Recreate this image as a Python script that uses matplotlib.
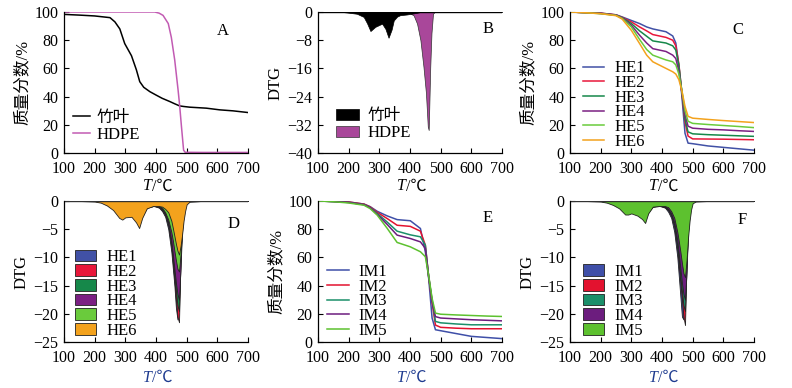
import matplotlib
matplotlib.use("Agg")
import matplotlib.pyplot as plt

plt.rcParams['font.family'] = ['Liberation Serif', 'Noto Sans CJK SC', 'DejaVu Sans']
plt.rcParams['axes.unicode_minus'] = True

# ---------------- data ----------------
# A: TG of bamboo leaf and HDPE
T_a = [100, 150, 200, 250, 266, 282, 298, 320, 336, 347, 360, 380, 401, 420, 445, 460, 477, 490,
       510, 564, 608, 651, 700]
tg_leaf = [98.3, 97.8, 97.2, 96.0, 93.0, 88.0, 77.6, 69.0, 59.0, 50.6, 46.6, 43.5, 41.0, 38.8, 36.5,
           35.0, 33.4, 33.0, 32.5, 31.8, 30.6, 29.9, 28.7]
T_hdpe = [100, 200, 300, 396, 410, 423, 440, 450, 461, 472, 477, 483, 490, 495, 550, 600, 650, 700]
tg_hdpe = [100, 100, 100, 100, 99.2, 97.6, 91.8, 82.0, 66.0, 44.7, 34.0, 18.8, 2.0, 0.5, 0.4, 0.4, 0.4, 0.4]

# B: DTG of bamboo leaf and HDPE
T_b1 = [100, 180, 200, 227, 249, 260, 271, 287, 309, 320, 330, 340, 347, 358, 368, 390, 412, 430]
dtg_leaf = [0, 0, -0.2, -0.5, -1.4, -3.2, -5.4, -4.2, -3.3, -4.8, -7.3, -5.0, -2.4, -1.3, -0.9, -0.7,
            -0.4, -0.1]
T_b2 = [385, 400, 412, 423, 434, 444, 452, 458, 461, 466, 470, 475, 480, 500, 600, 700]
dtg_hdpe = [0, -0.3, -1.0, -3.3, -8.0, -15.6, -23.0, -32.5, -33.5, -15.6, -6.0, -0.5, 0, 0, 0, 0]

# C: TG of HE1-HE6
T_c = [100, 150, 200, 250, 270, 300, 327, 350, 370, 413, 435, 445, 455, 465, 475, 485, 500, 550,
       600, 650, 700]
tg_he1 = [100, 99.6, 99.2, 98.0, 96.5, 94.0, 91.8, 89.4, 88.0, 86.0, 83.0, 78.0, 62.0, 40.0, 14.0,
          7.0, 6.6, 5.0, 4.0, 3.0, 2.0]
tg_he2 = [100, 99.6, 99.2, 98.0, 96.2, 93.0, 89.4, 86.6, 84.0, 82.0, 80.0, 76.0, 63.0, 42.0, 22.0,
          12.0, 10.0, 9.9, 9.8, 9.6, 9.4]
tg_he3 = [100, 99.6, 99.0, 97.8, 96.0, 91.8, 86.6, 82.8, 79.5, 78.0, 76.0, 73.0, 62.0, 43.0, 24.0,
          15.0, 13.6, 13.0, 12.6, 12.2, 11.8]
tg_he4 = [100, 99.5, 99.0, 97.8, 95.8, 90.6, 83.5, 78.0, 74.0, 72.0, 69.4, 67.0, 58.0, 43.0, 27.0,
          19.0, 17.6, 16.8, 16.4, 15.8, 15.3]
tg_he5 = [100, 99.5, 98.8, 97.6, 95.5, 89.4, 80.5, 73.4, 69.4, 66.0, 64.7, 62.5, 56.0, 44.0, 30.0,
          22.5, 21.0, 20.2, 19.5, 18.8, 18.0]
tg_he6 = [100, 99.5, 98.8, 97.4, 95.0, 87.0, 77.6, 69.4, 64.7, 60.0, 57.6, 56.0, 52.0, 44.0, 33.0,
          26.0, 24.7, 23.8, 23.0, 22.3, 21.6]

# D: DTG of HE1-HE6
T_d = [100, 150, 200, 220, 240, 260, 280, 290, 300, 320, 335, 345, 355, 370, 390, 410, 420, 430,
       440, 450, 455, 460, 465, 470, 475, 480, 485, 490, 495, 500, 510, 550, 600, 650, 700]
dtg_he1 = [0, 0, 0, -0.1, -0.3, -0.5, -0.8, -0.9, -1.0, -1.0, -1.1, -1.3, -1.2, -0.9, -0.8, -1.2,
           -1.8, -2.8, -5.0, -9.0, -12.0, -15.0, -19.0, -21.0, -16.0, -8.0, -3.0, -1.0, -0.3, -0.1, 0,
           0, 0, 0, 0]
dtg_he2 = [0, 0, 0, -0.1, -0.4, -0.7, -1.2, -1.3, -1.3, -1.4, -1.6, -1.9, -1.6, -1.0, -0.8, -1.1,
           -1.6, -2.5, -4.3, -8.0, -11.0, -14.0, -17.5, -20.5, -21.5, -10.0, -3.5, -1.2, -0.4, -0.1,
           0, 0, 0, 0, 0]
dtg_he3 = [0, 0, 0, -0.1, -0.5, -0.9, -1.6, -1.8, -1.7, -1.8, -2.2, -2.6, -2.0, -1.1, -0.8, -1.0,
           -1.5, -2.3, -4.0, -7.5, -10.0, -13.0, -16.0, -18.5, -19.5, -11.0, -4.0, -1.4, -0.5, -0.1,
           0, 0, 0, 0, 0]
dtg_he4 = [0, 0, 0, -0.1, -0.6, -1.1, -2.0, -2.2, -2.1, -2.1, -2.7, -3.3, -2.4, -1.2, -0.9, -1.0,
           -1.4, -2.2, -3.8, -7.0, -9.5, -12.0, -14.5, -16.5, -17.5, -12.0, -5.0, -1.8, -0.6, -0.2,
           0, 0, 0, 0, 0]
dtg_he5 = [0, 0, 0, -0.1, -0.7, -1.3, -2.5, -2.7, -2.5, -2.5, -3.2, -4.0, -2.7, -1.2, -0.9, -0.9,
           -1.2, -2.0, -3.3, -5.5, -7.0, -8.8, -10.5, -12.0, -12.5, -9.5, -5.5, -2.2, -0.8, -0.3,
           -0.1, 0, 0, 0, 0]
dtg_he6 = [0, 0, -0.1, -0.3, -0.8, -1.6, -3.0, -3.3, -2.9, -2.8, -3.8, -4.8, -3.0, -1.3, -0.9, -0.9,
           -1.0, -1.4, -2.0, -3.5, -4.8, -6.2, -7.6, -8.8, -9.5, -8.0, -6.0, -3.5, -1.8, -0.6, -0.1,
           0, 0, 0, 0]

# E: TG of IM1-IM5
T_e = [100, 150, 200, 250, 270, 293, 326, 358, 401, 434, 450, 461, 472, 483, 500, 550, 600, 650, 700]
tg_im1 = [100, 99.7, 99.3, 97.8, 96.0, 92.7, 89.4, 86.8, 86.0, 80.5, 64.0, 45.0, 17.0, 8.7, 8.0,
          6.0, 4.0, 3.2, 2.4]
tg_im2 = [100, 99.7, 99.3, 97.8, 95.8, 92.0, 87.5, 82.8, 82.0, 78.6, 68.7, 46.0, 28.0, 12.0, 10.4,
          9.8, 9.4, 9.4, 9.4]
tg_im3 = [100, 99.6, 99.0, 97.5, 95.4, 91.2, 85.0, 78.6, 76.0, 74.6, 68.7, 46.0, 30.0, 14.6, 13.6,
          12.8, 12.2, 12.2, 12.2]
tg_im4 = [100, 99.6, 99.0, 97.4, 95.2, 90.6, 83.3, 75.8, 73.4, 71.0, 66.4, 46.5, 28.7, 18.0, 17.0,
          16.4, 15.8, 15.4, 15.0]
tg_im5 = [100, 99.5, 98.6, 97.0, 94.6, 90.0, 80.5, 70.6, 67.5, 64.0, 60.5, 47.0, 31.0, 20.5, 19.7,
          19.2, 18.8, 18.4, 18.1]

# F: DTG of IM1-IM5
T_f = [100, 150, 200, 220, 240, 260, 280, 290, 300, 320, 335, 345, 355, 370, 390, 410, 420, 430,
       440, 450, 455, 460, 465, 470, 475, 480, 485, 490, 495, 500, 510, 550, 600, 650, 700]
dtg_im1 = [0, 0, 0, -0.1, -0.3, -0.6, -0.9, -1.0, -1.0, -1.1, -1.3, -1.5, -1.2, -0.9, -0.8, -1.2,
           -1.9, -3.0, -5.5, -10.0, -13.5, -17.0, -20.5, -21.0, -14.0, -6.0, -2.0, -0.7, -0.2, -0.1,
           0, 0, 0, 0, 0]
dtg_im2 = [0, 0, 0, -0.1, -0.4, -0.8, -1.3, -1.4, -1.3, -1.5, -1.8, -2.2, -1.6, -1.0, -0.8, -1.1,
           -1.6, -2.6, -4.5, -8.5, -11.5, -14.5, -17.5, -20.5, -22.0, -11.0, -4.0, -1.3, -0.4, -0.1,
           0, 0, 0, 0, 0]
dtg_im3 = [0, 0, 0, -0.1, -0.5, -0.9, -1.6, -1.7, -1.6, -1.8, -2.3, -2.8, -1.8, -1.0, -0.8, -1.0,
           -1.5, -2.4, -4.2, -8.0, -10.5, -13.5, -16.0, -18.5, -19.5, -12.0, -4.5, -1.5, -0.5, -0.1,
           0, 0, 0, 0, 0]
dtg_im4 = [0, 0, 0, -0.1, -0.6, -1.1, -2.0, -2.0, -1.9, -2.1, -2.7, -3.3, -2.0, -1.0, -0.9, -1.0,
           -1.4, -2.2, -3.8, -7.0, -9.5, -12.0, -14.5, -16.5, -17.5, -12.5, -5.5, -2.0, -0.7, -0.2,
           0, 0, 0, 0, 0]
dtg_im5 = [0, 0, -0.1, -0.3, -0.7, -1.3, -2.4, -2.4, -2.2, -2.6, -3.2, -3.9, -2.2, -1.0, -0.9, -0.9,
           -1.1, -1.8, -3.0, -5.5, -7.2, -9.0, -11.0, -12.8, -13.5, -10.5, -6.5, -3.5, -1.5, -0.4,
           -0.1, 0, 0, 0, 0]

he_labels = ['HE1', 'HE2', 'HE3', 'HE4', 'HE5', 'HE6']
im_labels = ['IM1', 'IM2', 'IM3', 'IM4', 'IM5']
he_colors = ['#4151a6', '#e8173a', '#16884a', '#7b2083', '#6acb3c', '#f3a21d']
im_colors = ['#3f4fa8', '#e3122f', '#1b8f6a', '#6c1d7e', '#5dc12f']

# ---------------- figure ----------------
W, H = 792, 388
fig = plt.figure(figsize=(W / 100, H / 100), dpi=100)


def make_ax(x0, y_top):
    ax = fig.add_axes([x0 / W, (H - y_top - 141) / H, 184 / W, 141 / H])
    ax.spines['top'].set_visible(False)
    ax.spines['right'].set_visible(False)
    ax.spines['left'].set_linewidth(0.9)
    ax.spines['bottom'].set_linewidth(0.9)
    ax.tick_params(direction='in', length=3.5, width=0.8, labelsize=11.5)
    ax.tick_params(axis='x', pad=6)
    ax.tick_params(axis='y', pad=4)
    ax.set_xlim(100, 700)
    ax.set_xticks(range(100, 701, 100))
    return ax


def xlab(ax, dy, color='black'):
    # italic T followed by upright "/℃"
    ax.annotate('T', xy=(0.5, 0), xycoords='axes fraction', xytext=(-3, dy),
                textcoords='offset points', ha='right', va='center', fontsize=11.5,
                style='italic', color=color)
    ax.annotate('/℃', xy=(0.5, 0), xycoords='axes fraction', xytext=(-3, dy),
                textcoords='offset points', ha='left', va='center', fontsize=11.5, color=color)


def tg_style(ax):
    ax.set_ylim(0, 100)
    ax.set_yticks(range(0, 101, 20))
    ax.set_ylabel('质量分数/%', fontsize=12, labelpad=3)


def dtg_style(ax, lo, step):
    ax.set_ylim(lo, 0)
    ax.set_yticks(range(lo, 1, step))
    ax.set_ylabel('DTG', fontsize=12, labelpad=3)


leg_kw = dict(frameon=False, fontsize=12, borderaxespad=0, borderpad=0.2)

# A
axA = make_ax(64, 12)
axA.plot(T_a, tg_leaf, color='black', lw=1.1, label='竹叶')
axA.plot(T_hdpe, tg_hdpe, color='#c25bb3', lw=1.1, label='HDPE')
tg_style(axA)
xlab(axA, -24)
axA.text(0.865, 0.865, 'A', transform=axA.transAxes, fontsize=12, ha='center', va='center')
axA.legend(loc='lower left', bbox_to_anchor=(0.03, 0.05), handlelength=1.0, labelspacing=0.05,
           handletextpad=0.4, **leg_kw)

# B
axB = make_ax(318, 12)
axB.fill_between(T_b2, dtg_hdpe, 0, facecolor='#a9479a', edgecolor='#333333', lw=0.5,
                 label='HDPE', zorder=2)
axB.fill_between(T_b1, dtg_leaf, 0, facecolor='black', edgecolor='black', lw=0.5,
                 label='竹叶', zorder=3)
axB.plot([100, 700], [0, 0], color='black', lw=1.0, zorder=4)
dtg_style(axB, -40, 8)
xlab(axB, -24)
axB.text(0.925, 0.88, 'B', transform=axB.transAxes, fontsize=12, ha='center', va='center')
hB, lB = axB.get_legend_handles_labels()
axB.legend(hB[::-1], lB[::-1], loc='lower left', bbox_to_anchor=(0.08, 0.06), handlelength=1.4,
           labelspacing=0.05, handletextpad=0.5, **leg_kw)

# C
axC = make_ax(570, 12)
for ys, lab, c in zip([tg_he1, tg_he2, tg_he3, tg_he4, tg_he5, tg_he6], he_labels, he_colors):
    axC.plot(T_c, ys, color=c, lw=1.1, label=lab)
tg_style(axC)
xlab(axC, -24)
axC.text(0.91, 0.87, 'C', transform=axC.transAxes, fontsize=12, ha='center', va='center')
axC.legend(loc='lower left', bbox_to_anchor=(0.05, 0.0), handlelength=1.3, labelspacing=-0.08,
           handletextpad=0.6, **leg_kw)

# D
axD = make_ax(64, 201)
for ys, lab, c in zip([dtg_he1, dtg_he2, dtg_he3, dtg_he4, dtg_he5, dtg_he6], he_labels, he_colors):
    axD.fill_between(T_d, ys, 0, facecolor=c, edgecolor='#222222', lw=0.6, label=lab)
axD.plot([100, 700], [0, 0], color='#333333', lw=1.0)
dtg_style(axD, -25, 5)
xlab(axD, -26, '#1d3a8f')
axD.text(0.92, 0.84, 'D', transform=axD.transAxes, fontsize=12, ha='center', va='center')
axD.legend(loc='lower left', bbox_to_anchor=(0.04, 0.0), handlelength=1.3, labelspacing=-0.08,
           handletextpad=0.6, **leg_kw)

# E
axE = make_ax(318, 201)
for ys, lab, c in zip([tg_im1, tg_im2, tg_im3, tg_im4, tg_im5], im_labels, im_colors):
    axE.plot(T_e, ys, color=c, lw=1.1, label=lab)
tg_style(axE)
xlab(axE, -26, '#1d3a8f')
axE.text(0.92, 0.88, 'E', transform=axE.transAxes, fontsize=12, ha='center', va='center')
axE.legend(loc='lower left', bbox_to_anchor=(0.03, 0.0), handlelength=1.3, labelspacing=-0.08,
           handletextpad=0.6, **leg_kw)

# F
axF = make_ax(570, 201)
for ys, lab, c in zip([dtg_im1, dtg_im2, dtg_im3, dtg_im4, dtg_im5], im_labels, im_colors):
    axF.fill_between(T_f, ys, 0, facecolor=c, edgecolor='#222222', lw=0.6, label=lab)
axF.plot([100, 700], [0, 0], color='#333333', lw=1.0)
dtg_style(axF, -25, 5)
xlab(axF, -26, '#1d3a8f')
axF.text(0.935, 0.865, 'F', transform=axF.transAxes, fontsize=12, ha='center', va='center')
axF.legend(loc='lower left', bbox_to_anchor=(0.05, 0.0), handlelength=1.3, labelspacing=-0.08,
           handletextpad=0.6, **leg_kw)

fig.savefig('out.png', dpi=100)
